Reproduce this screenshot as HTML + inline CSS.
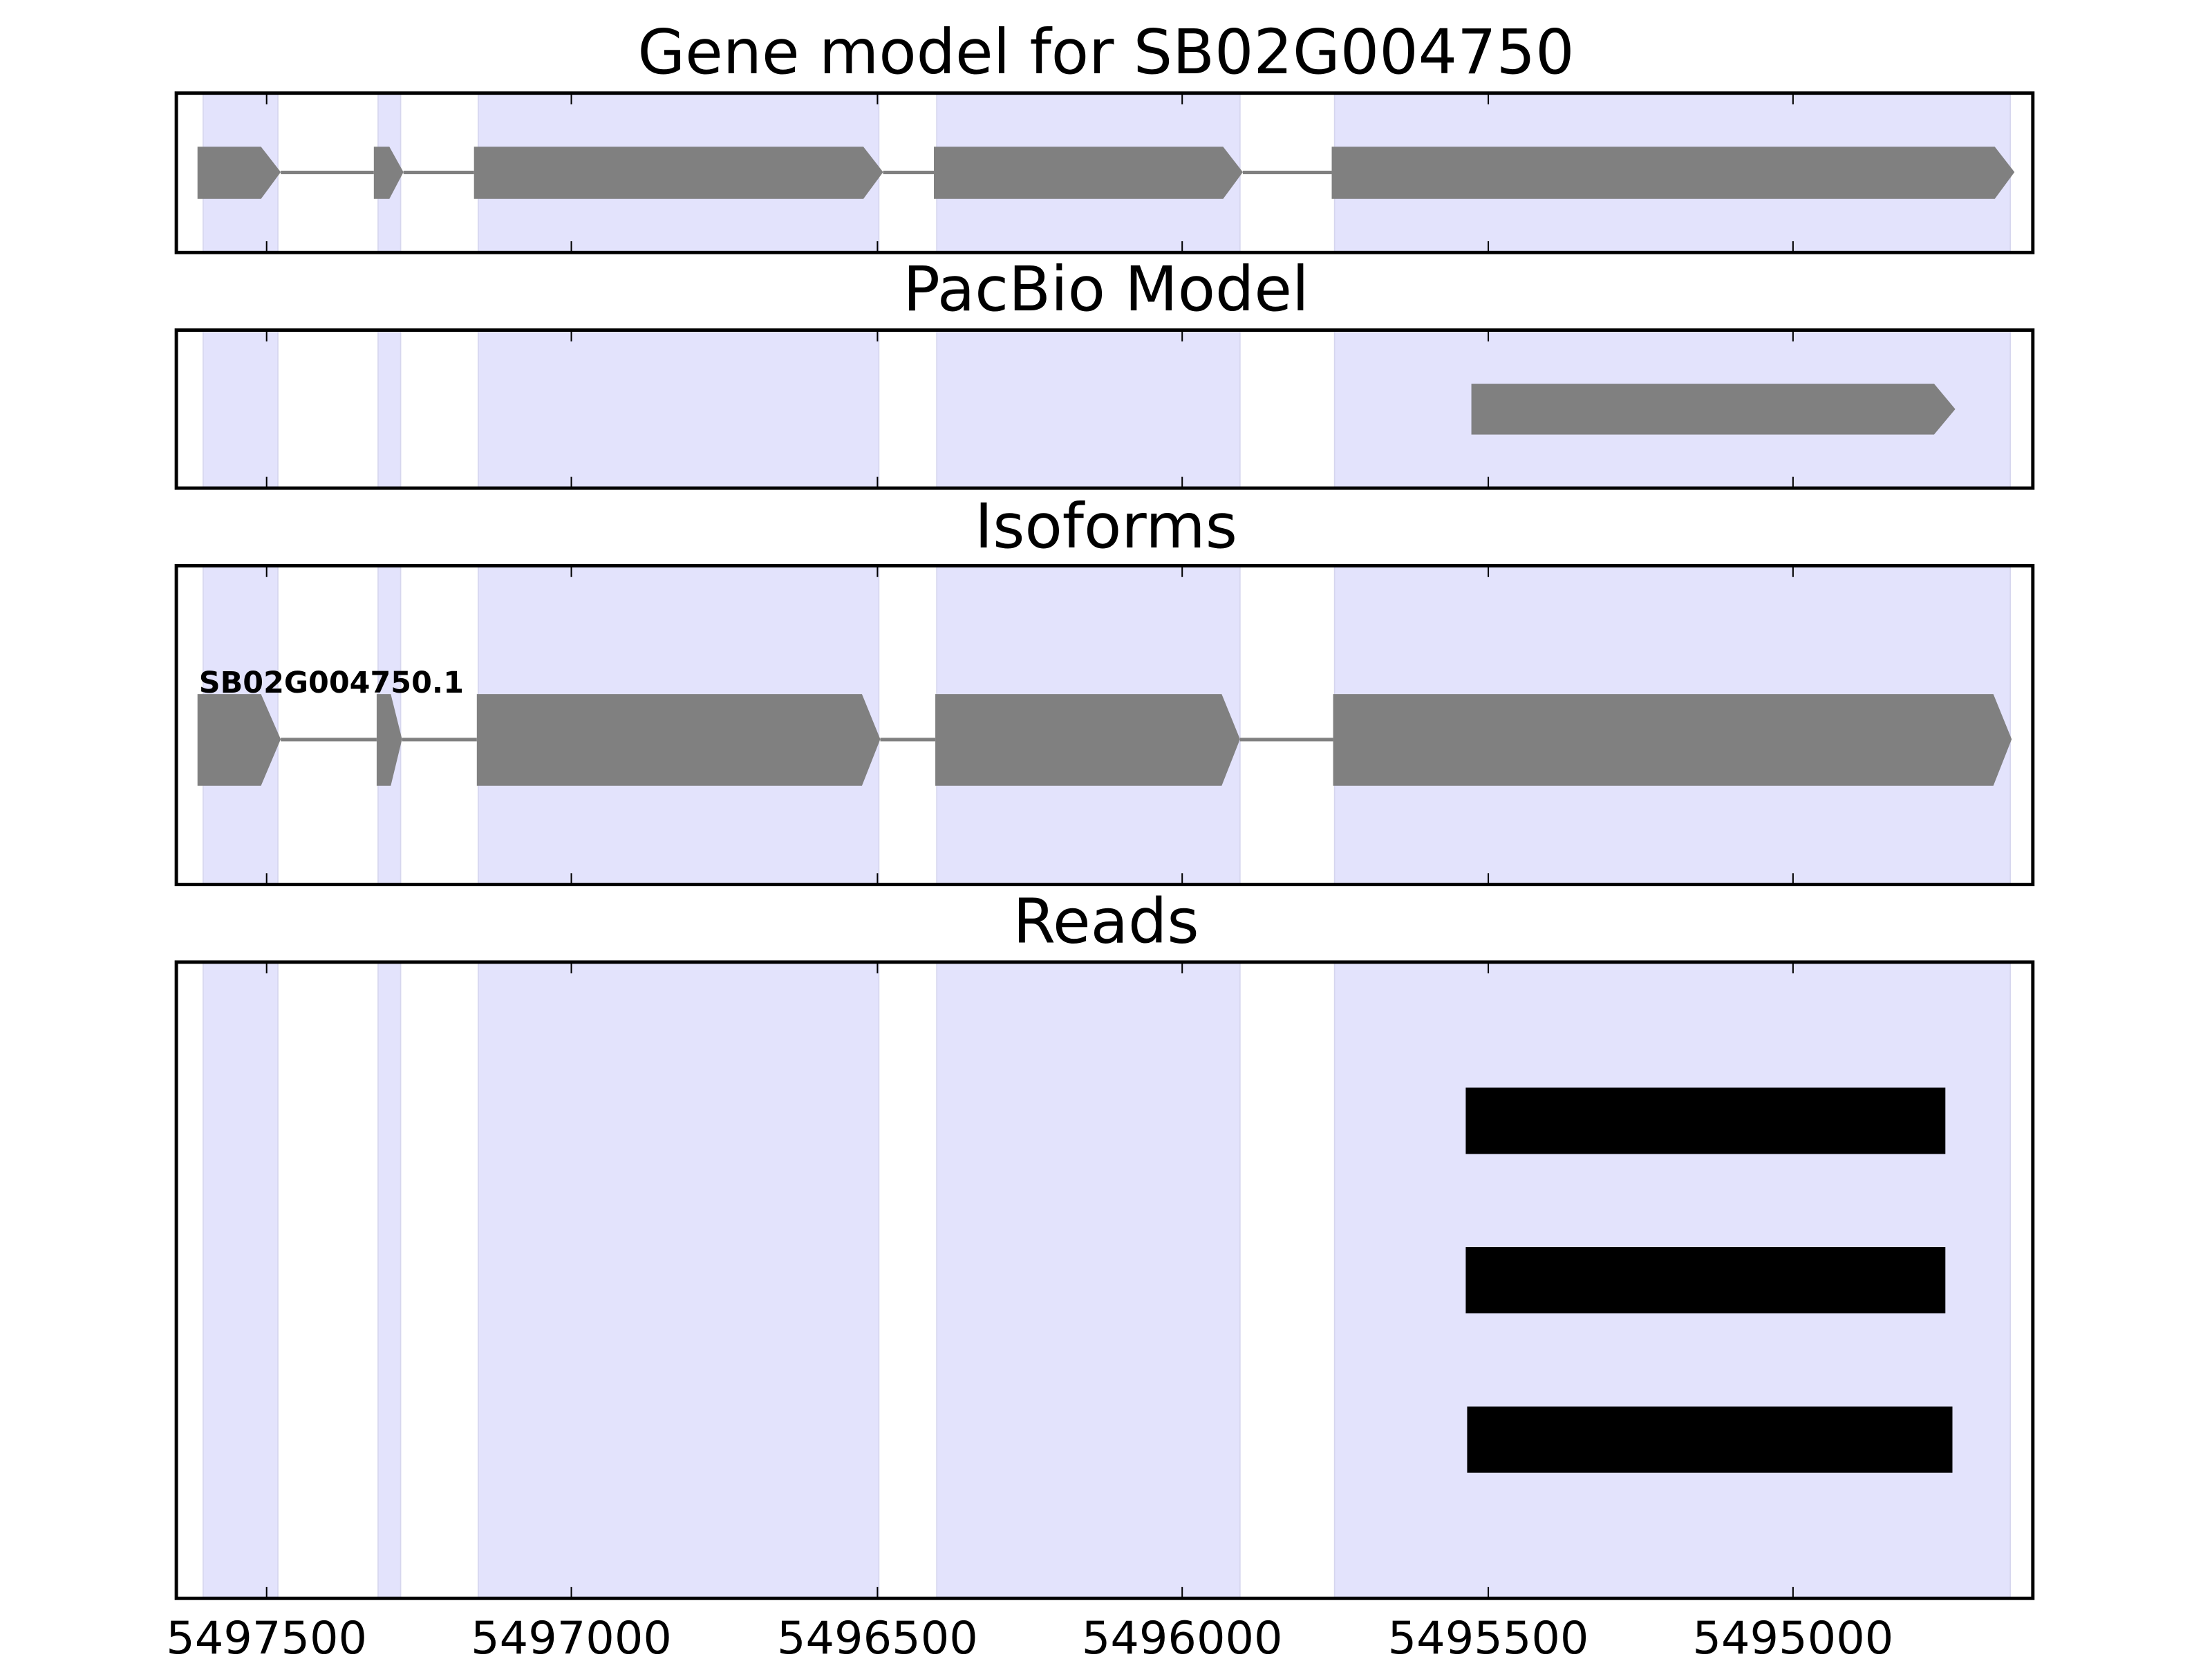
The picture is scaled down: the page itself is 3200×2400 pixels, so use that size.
<!DOCTYPE html>
<html><head><style>html,body{margin:0;padding:0;background:#fff}svg{display:block}</style></head>
<body>
<svg xmlns="http://www.w3.org/2000/svg" width="3200" height="2400" viewBox="0 0 1568 1176" preserveAspectRatio="none" font-family="DejaVu Sans, Liberation Sans, sans-serif">
<g font-size="43.5" text-anchor="middle" fill="#000">
<text x="784" y="52">Gene model for SB02G004750</text>
<text x="784" y="220">PacBio Model</text>
<text x="784" y="388">Isoforms</text>
<text x="784" y="668">Reads</text>
</g>
<g fill="#e3e3fc" stroke="#d6d6ee" stroke-width="0.8">
<rect x="144" y="66" width="53" height="113"/><rect x="268" y="66" width="16" height="113"/><rect x="339" y="66" width="284" height="113"/><rect x="664" y="66" width="215" height="113"/><rect x="946" y="66" width="479" height="113"/>
<rect x="144" y="234" width="53" height="112"/><rect x="268" y="234" width="16" height="112"/><rect x="339" y="234" width="284" height="112"/><rect x="664" y="234" width="215" height="112"/><rect x="946" y="234" width="479" height="112"/>
<rect x="144" y="401" width="53" height="226"/><rect x="268" y="401" width="16" height="226"/><rect x="339" y="401" width="284" height="226"/><rect x="664" y="401" width="215" height="226"/><rect x="946" y="401" width="479" height="226"/>
<rect x="144" y="682" width="53" height="451"/><rect x="268" y="682" width="16" height="451"/><rect x="339" y="682" width="284" height="451"/><rect x="664" y="682" width="215" height="451"/><rect x="946" y="682" width="479" height="451"/>
</g>
<g fill="#808080" stroke="none">
<rect x="199" y="121" width="66" height="2.5"/><rect x="286" y="121" width="50" height="2.5"/>
<rect x="626" y="121" width="36" height="2.5"/><rect x="881" y="121" width="63" height="2.5"/>
<polygon points="140,104 185,104 199,122 185,141 140,141"/>
<polygon points="265,104 276,104 286,122 276,141 265,141"/>
<polygon points="336,104 612,104 626,122 612,141 336,141"/>
<polygon points="662,104 867,104 881,122 867,141 662,141"/>
<polygon points="944,104 1414,104 1428,122 1414,141 944,141"/>
<polygon points="1043,272 1371,272 1386,290 1371,308 1043,308"/>
<rect x="199" y="523" width="68" height="2.5"/><rect x="285" y="523" width="53" height="2.5"/>
<rect x="624" y="523" width="39" height="2.5"/><rect x="879" y="523" width="66" height="2.5"/>
<polygon points="140,492 185,492 199,524 185,557 140,557"/>
<polygon points="267,492 277,492 285,524 277,557 267,557"/>
<polygon points="338,492 611,492 624,524 611,557 338,557"/>
<polygon points="663,492 866,492 879,524 866,557 663,557"/>
<polygon points="945,492 1413,492 1426,524 1413,557 945,557"/>
</g>
<text x="141" y="491" font-size="21" font-weight="bold">SB02G004750.1</text>
<g fill="#000">
<rect x="1039" y="771" width="340" height="47"/>
<rect x="1039" y="884" width="340" height="47"/>
<rect x="1040" y="997" width="344" height="47"/>
</g>
<g fill="none" stroke="#000" stroke-width="2.4">
<rect x="125" y="66" width="1316" height="113"/>
<rect x="125" y="234" width="1316" height="112"/>
<rect x="125" y="401" width="1316" height="226"/>
<rect x="125" y="682" width="1316" height="451"/>
</g>
<g stroke="#000" stroke-width="1">
<path d="M189,66v8M405,66v8M622,66v8M838,66v8M1055,66v8M1271,66v8 M189,179v-8M405,179v-8M622,179v-8M838,179v-8M1055,179v-8M1271,179v-8"/>
<path d="M189,234v8M405,234v8M622,234v8M838,234v8M1055,234v8M1271,234v8 M189,346v-8M405,346v-8M622,346v-8M838,346v-8M1055,346v-8M1271,346v-8"/>
<path d="M189,401v8M405,401v8M622,401v8M838,401v8M1055,401v8M1271,401v8 M189,627v-8M405,627v-8M622,627v-8M838,627v-8M1055,627v-8M1271,627v-8"/>
<path d="M189,682v8M405,682v8M622,682v8M838,682v8M1055,682v8M1271,682v8 M189,1133v-8M405,1133v-8M622,1133v-8M838,1133v-8M1055,1133v-8M1271,1133v-8"/>
</g>
<g font-size="32" text-anchor="middle">
<text x="189" y="1172">5497500</text>
<text x="405" y="1172">5497000</text>
<text x="622" y="1172">5496500</text>
<text x="838" y="1172">5496000</text>
<text x="1055" y="1172">5495500</text>
<text x="1271" y="1172">5495000</text>
</g>
</svg>
</body></html>
